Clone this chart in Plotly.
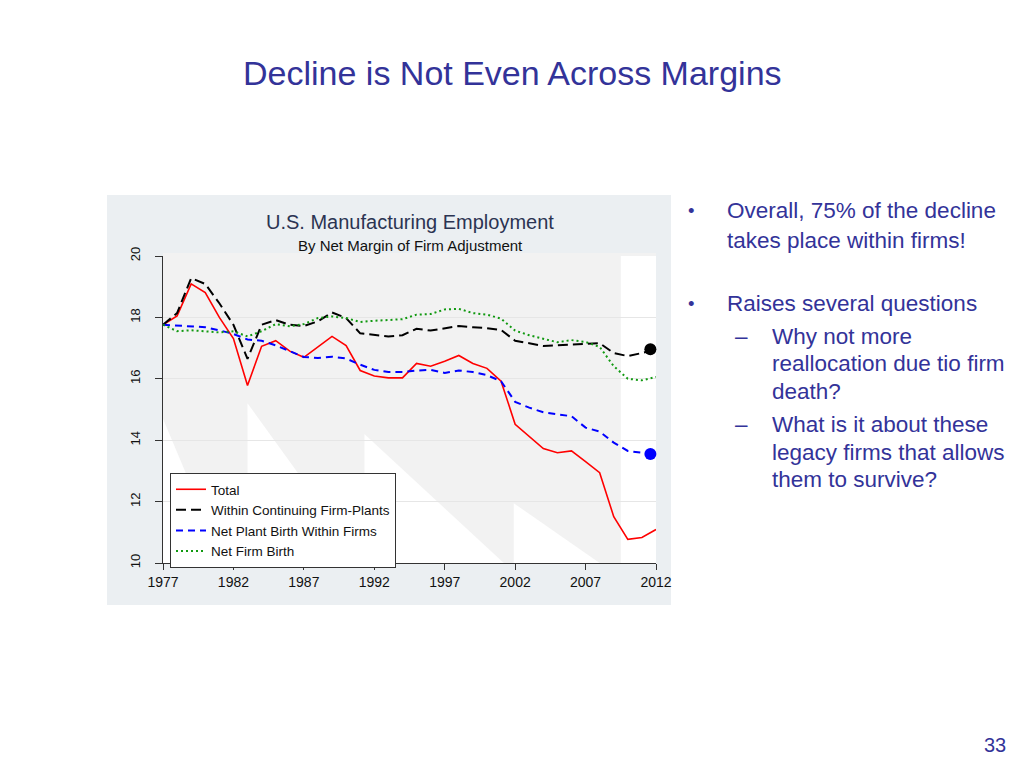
import plotly.graph_objects as go

years = list(range(1977, 2013))

total = [17.76, 18.05, 19.09, 18.81, 18.0, 17.31, 15.78, 17.06, 17.24, 16.9,
         16.7, 17.03, 17.38, 17.08, 16.27, 16.09, 16.03, 16.03, 16.5, 16.41,
         16.57, 16.76, 16.5, 16.34, 15.92, 14.52, 14.12, 13.73, 13.59, 13.65,
         13.3, 12.94, 11.51, 10.77, 10.83, 11.09]
within_cont = [17.76, 18.14, 19.28, 19.09, 18.46, 17.76, 16.65, 17.76, 17.91, 17.76,
               17.72, 17.87, 18.16, 17.98, 17.48, 17.42, 17.38, 17.42, 17.63, 17.57,
               17.65, 17.72, 17.68, 17.65, 17.59, 17.24, 17.16, 17.07, 17.09, 17.11,
               17.14, 17.16, 16.84, 16.74, 16.84, 16.96]
net_plant = [17.76, 17.74, 17.71, 17.68, 17.58, 17.46, 17.28, 17.24, 17.09, 16.9,
             16.71, 16.68, 16.72, 16.66, 16.46, 16.29, 16.22, 16.22, 16.27, 16.29,
             16.19, 16.27, 16.22, 16.12, 15.92, 15.25, 15.06, 14.91, 14.84, 14.78,
             14.41, 14.28, 13.92, 13.65, 13.59, 13.55]
net_firm = [17.76, 17.55, 17.58, 17.54, 17.51, 17.55, 17.38, 17.55, 17.78, 17.71,
            17.78, 17.98, 18.03, 17.98, 17.85, 17.89, 17.92, 17.94, 18.09, 18.11,
            18.26, 18.28, 18.14, 18.09, 17.96, 17.57, 17.42, 17.3, 17.19, 17.26,
            17.2, 17.04, 16.41, 16.0, 15.95, 16.06]

end_dot_year = [2011.6]
end_dot_within = [16.96]
end_dot_plant = [13.55]

x_ticks = [1977, 1982, 1987, 1992, 1997, 2002, 2007, 2012]
y_ticks = [10, 12, 14, 16, 18, 20]

FONT = "Liberation Sans, Arial, sans-serif"
NAVY = "#333399"

fig = go.Figure()
fig.add_trace(go.Scatter(x=years, y=total, mode="lines", name="Total",
                         line=dict(color="#ff0000", width=1.6)))
fig.add_trace(go.Scatter(x=years, y=within_cont, mode="lines", name="Within Continuing Firm-Plants",
                         line=dict(color="#000000", width=2, dash="10px,5px")))
fig.add_trace(go.Scatter(x=years, y=net_plant, mode="lines", name="Net Plant Birth Within Firms",
                         line=dict(color="#0000ff", width=2, dash="7px,5px")))
fig.add_trace(go.Scatter(x=years, y=net_firm, mode="lines", name="Net Firm Birth",
                         line=dict(color="#119911", width=2, dash="2px,3px")))
fig.add_trace(go.Scatter(x=end_dot_year, y=end_dot_within, mode="markers", showlegend=False,
                         marker=dict(color="#000000", size=12), cliponaxis=False))
fig.add_trace(go.Scatter(x=end_dot_year, y=end_dot_plant, mode="markers", showlegend=False,
                         marker=dict(color="#0000ff", size=12), cliponaxis=False))

W, H = 1024, 768
def px(x):
    return x / W
def py(y):
    return 1 - y / H

shapes = []
shapes.append(dict(type="rect", xref="paper", yref="paper",
                   x0=px(107), x1=px(671), y0=py(605), y1=py(195),
                   fillcolor="#ebeff2", line=dict(width=0), layer="below"))
shapes.append(dict(type="rect", xref="paper", yref="paper",
                   x0=px(163), x1=px(656), y0=py(563), y1=py(253),
                   fillcolor="#f2f2f2", line=dict(width=0), layer="below"))
white_paths = [
    "M 1977,14.7 L 1977,10 L 1981.3,10 Z",
    "M 1983,15.2 L 1983,10 L 1991.2,10 Z",
    "M 1991.3,14.2 L 1991.3,10 L 2001.2,10 Z",
    "M 2001.9,11.95 L 2001.9,10 L 2008.0,10 Z",
]
for p in white_paths:
    shapes.append(dict(type="path", xref="x", yref="y", path=p,
                       fillcolor="#ffffff", line=dict(width=0), layer="below"))
shapes.append(dict(type="rect", xref="x", yref="y", x0=2009.5, x1=2012, y0=10, y1=20,
                   fillcolor="#ffffff", line=dict(width=0), layer="below"))

annotations = []
def txt(x, y, s, size, color, anchor="left", family=FONT):
    annotations.append(dict(x=px(x), y=py(y), xref="paper", yref="paper", text=s,
                            showarrow=False, xanchor=anchor, yanchor="middle",
                            font=dict(family=family, size=size, color=color)))

txt(512, 73, "Decline is Not Even Across Margins", 34, NAVY, "center")
txt(410, 222, "U.S. Manufacturing Employment", 20, "#2b3452", "center")
txt(410, 245, "By Net Margin of Firm Adjustment", 15, "#111111", "center")

BS = 22.5
txt(686, 211, "•", BS - 4, NAVY)
txt(725, 211, "Overall, 75% of the decline", BS, NAVY)
txt(725, 240, "takes place within firms!", BS, NAVY)
txt(686, 304, "•", BS - 4, NAVY)
txt(725, 304, "Raises several questions", BS, NAVY)
txt(733, 337, "–", BS, NAVY)
txt(770, 337, "Why not more", BS, NAVY)
txt(770, 364, "reallocation due tio firm", BS, NAVY)
txt(770, 391, "death?", BS, NAVY)
txt(733, 424, "–", BS, NAVY)
txt(770, 424, "What is it about these", BS, NAVY)
txt(770, 452, "legacy firms that allows", BS, NAVY)
txt(770, 479, "them to survive?", BS, NAVY)
txt(995, 745, "33", 20, NAVY, "center")

fig.update_layout(
    template="none",
    width=W, height=H,
    margin=dict(l=0, r=0, t=0, b=0, pad=0, autoexpand=False),
    paper_bgcolor="#ffffff",
    plot_bgcolor="rgba(0,0,0,0)",
    font=dict(family=FONT, color="#111111"),
    shapes=shapes,
    annotations=annotations,
    showlegend=True,
    legend=dict(x=px(170), y=py(473), xanchor="left", yanchor="top",
                bgcolor="#ffffff", bordercolor="#333333", borderwidth=1,
                font=dict(family=FONT, size=13.5, color="#111111"),
                tracegroupgap=0),
    xaxis=dict(domain=[px(163), px(656)], range=[1977, 2012], automargin=False,
               tickvals=x_ticks, ticktext=[str(t) for t in x_ticks],
               showgrid=False, zeroline=False, showline=True, linecolor="#333333", linewidth=1,
               ticks="outside", ticklen=6, tickcolor="#333333",
               tickfont=dict(size=14, color="#111111", family=FONT)),
    yaxis=dict(domain=[py(563), py(256)], range=[10, 20], automargin=False,
               tickvals=y_ticks, ticktext=[str(t) for t in y_ticks],
               showgrid=True, gridcolor="#e6e6e6", gridwidth=1,
               zeroline=False, showline=True, linecolor="#333333", linewidth=1,
               ticks="outside", ticklen=7, tickcolor="#333333", tickangle=-90,
               ticklabelstandoff=10,
               tickfont=dict(size=13, color="#111111", family=FONT)),
)

fig.write_html("out.html", config={"displayModeBar": False},
               post_script="document.body.style.margin='0px';")
